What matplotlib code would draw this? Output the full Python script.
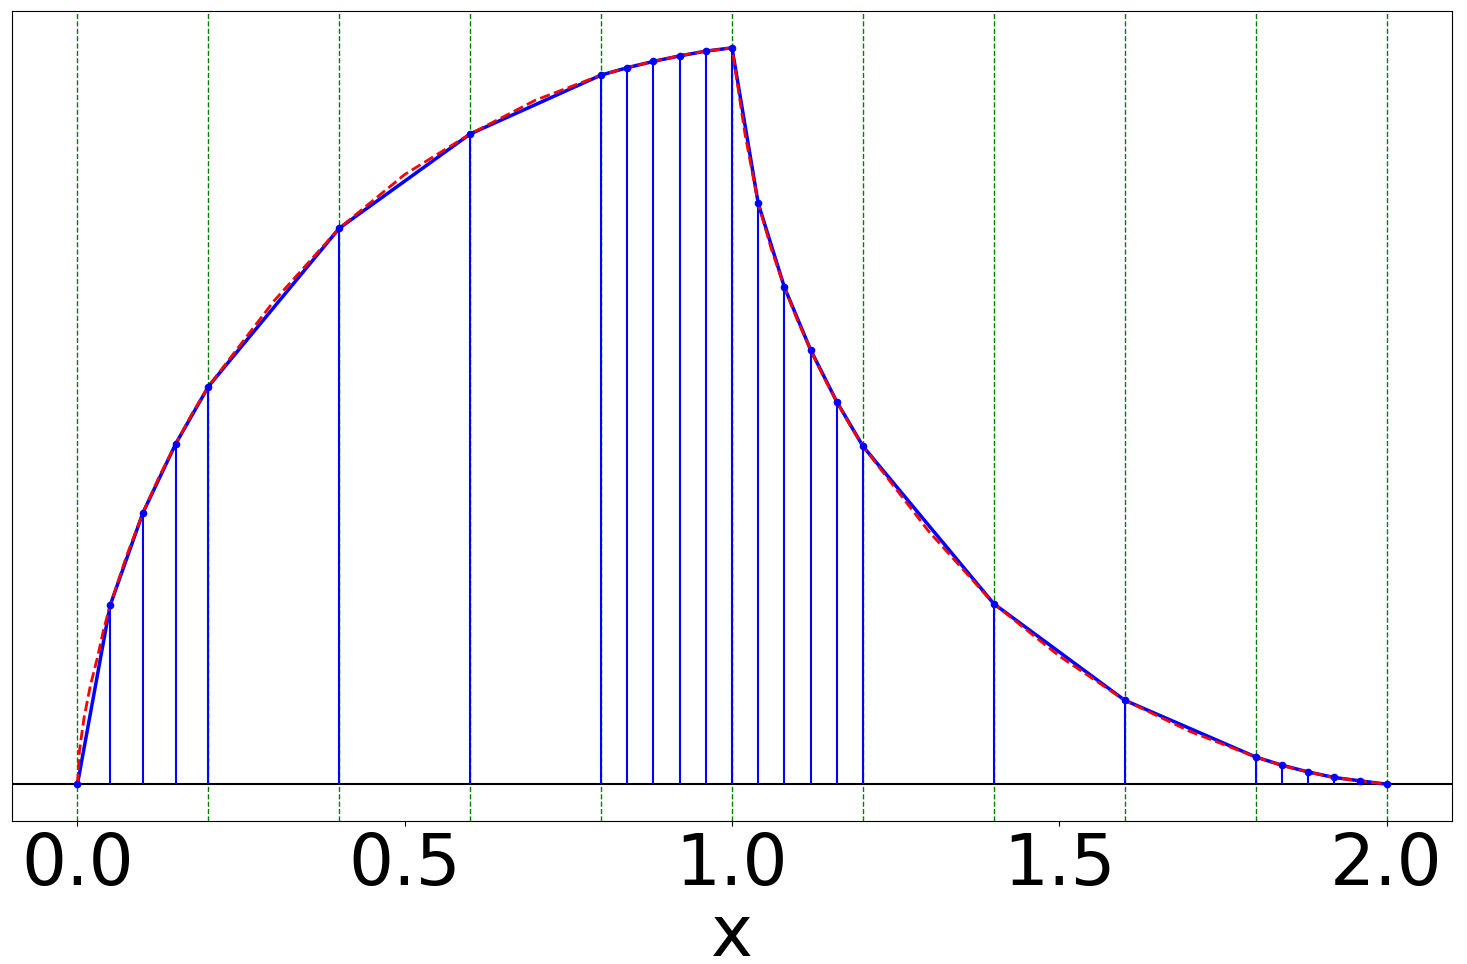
import numpy as np
import matplotlib
matplotlib.use("Agg")
import matplotlib.pyplot as plt

# mesh nodes and piecewise-linear interpolant values
x_nodes = [0.0, 0.05, 0.1, 0.15, 0.2, 0.4, 0.6, 0.8, 0.84, 0.88, 0.92, 0.96, 1.0,
           1.04, 1.08, 1.12, 1.16, 1.2, 1.4, 1.6, 1.8, 1.84, 1.88, 1.92, 1.96, 2.0]
u_nodes = [0.0, 0.243, 0.3685, 0.462, 0.540, 0.755, 0.883, 0.963, 0.973, 0.9816, 0.989, 0.9955, 1.0,
           0.789, 0.675, 0.590, 0.5195, 0.459, 0.245, 0.114, 0.037, 0.0258, 0.0167, 0.0091, 0.0045, 0.0]

# exact function (red dashed)
x_exact = [0.0, 0.003, 0.01, 0.02, 0.03, 0.04, 0.05, 0.075, 0.1, 0.125, 0.15, 0.175, 0.2,
           0.3, 0.4, 0.5, 0.6, 0.7, 0.8, 0.84, 0.88, 0.92, 0.96, 1.0,
           1.02, 1.04, 1.06, 1.08, 1.1, 1.12, 1.14, 1.16, 1.18, 1.2,
           1.3, 1.4, 1.5, 1.6, 1.7, 1.8, 1.84, 1.88, 1.92, 1.96, 2.0]
u_exact = [0.0, 0.045, 0.09, 0.135, 0.17, 0.21, 0.243, 0.310, 0.3685, 0.418, 0.462, 0.503, 0.540,
           0.656, 0.755, 0.828, 0.883, 0.929, 0.963, 0.973, 0.9818, 0.9892, 0.9956, 1.0,
           0.882, 0.789, 0.727, 0.675, 0.630, 0.590, 0.553, 0.5195, 0.488, 0.459,
           0.344, 0.245, 0.174, 0.114, 0.0715, 0.037, 0.0255, 0.0165, 0.009, 0.0043, 0.0]

# element boundaries
x_elem = [0.0, 0.2, 0.4, 0.6, 0.8, 1.0, 1.2, 1.4, 1.6, 1.8, 2.0]

fig = plt.figure(figsize=(14.67, 9.64), dpi=100)
ax = fig.add_axes([12/1467, 1-821/964, 1440/1467, 810/964])

for xe in x_elem:
    ax.axvline(xe, color='g', linestyle='--', linewidth=1)
ax.axhline(0, color='k', linewidth=1.5)
ax.vlines(x_nodes, 0, u_nodes, colors='b', linewidth=1.5)
ax.plot(x_nodes, u_nodes, '-', color='b', linewidth=2.5)
ax.plot(x_exact, u_exact, '--', color='r', linewidth=2)
ax.plot(x_nodes, u_nodes, 'o', color='b', markersize=4.5)

ax.set_xlim(-0.1, 2.1)
ax.set_ylim(-0.05, 1.05)
ax.set_xticks([0.0, 0.5, 1.0, 1.5, 2.0])
ax.set_yticks([])
ax.tick_params(axis='x', labelsize=51)
ax.set_xlabel('x', fontsize=51, labelpad=2)

fig.savefig('out.png', dpi=100)
